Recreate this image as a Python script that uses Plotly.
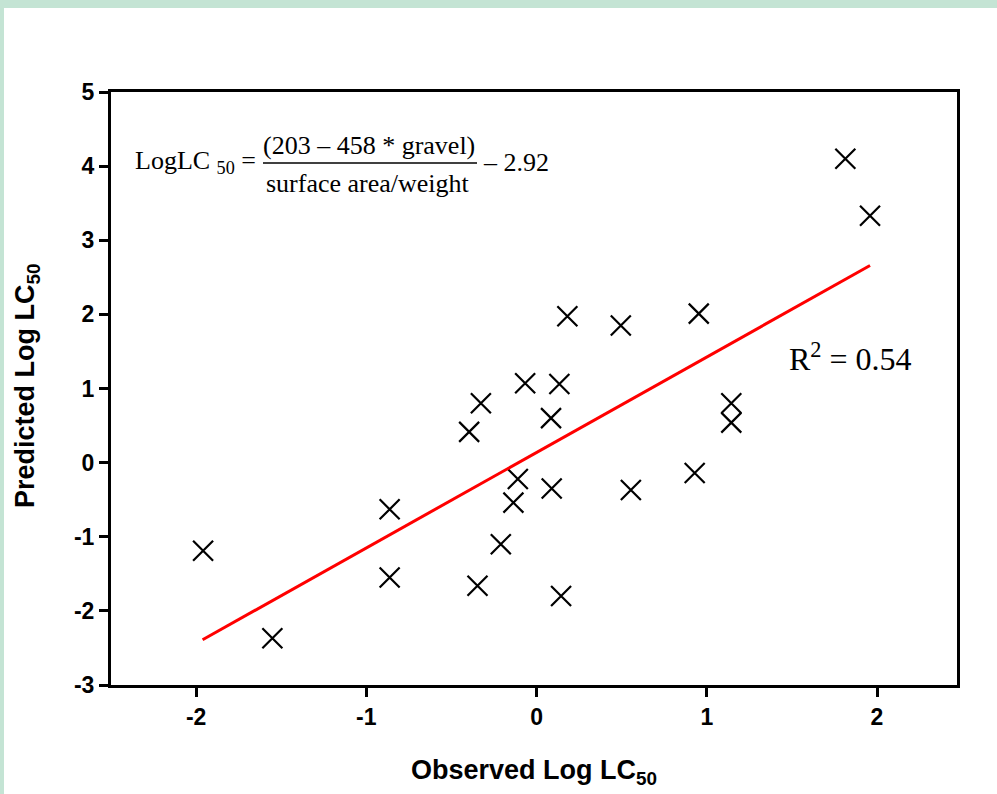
import plotly.graph_objects as go

# ---- data ----
observed = [-1.959, -1.552, -0.863, -0.863, -0.396, -0.327, -0.347, -0.210,
            -0.136, -0.110, -0.067, 0.134, 0.085, 0.089, 0.144, 0.181,
            0.495, 0.554, 0.953, 0.929, 1.144, 1.144, 1.814, 1.959]
predicted = [-1.19, -2.37, -0.63, -1.55, 0.415, 0.80, -1.66, -1.10,
             -0.54, -0.22, 1.07, 1.06, 0.60, -0.35, -1.80, 1.975,
             1.85, -0.37, 2.01, -0.14, 0.80, 0.54, 4.10, 3.33]
fit_x = [-1.962, 1.959]
fit_y = [-2.39, 2.66]
x_ticks = [-2, -1, 0, 1, 2]
y_ticks = [-3, -2, -1, 0, 1, 2, 3, 4, 5]
x_ticktext = ["<b>%d</b>" % v for v in x_ticks]
y_ticktext = ["<b>%d</b>" % v for v in y_ticks]

# ---- layout geometry (pixels) ----
W, H = 997, 794
L, R, T, B = 111, 957, 92, 685


def px(p):
    return (p - L) / (R - L)


def py(p):
    return (B - p) / (B - T)


fig = go.Figure()
fig.add_trace(go.Scatter(
    x=observed, y=predicted, mode="markers",
    marker=dict(symbol="x-thin", size=20, color="black",
                line=dict(width=2.2, color="black")),
    showlegend=False, hoverinfo="skip"))
fig.add_trace(go.Scatter(
    x=fit_x, y=fit_y, mode="lines",
    line=dict(color="#ff0000", width=3),
    showlegend=False, hoverinfo="skip"))

tick_font = dict(family="Liberation Sans", size=23, color="black")
axis_common = dict(
    showgrid=False, zeroline=False, showline=True, linecolor="black",
    linewidth=3, mirror=True, ticks="outside", ticklen=9, tickwidth=2.5,
    tickcolor="black", tickfont=tick_font,
)
fig.update_xaxes(range=[-2.5, 2.47], tickmode="array", tickvals=x_ticks,
                 ticktext=x_ticktext, **axis_common)
fig.update_yaxes(range=[-3, 5], tickmode="array", tickvals=y_ticks,
                 ticktext=y_ticktext, **axis_common)

serif = dict(family="Liberation Serif", size=26, color="black")
ann = []
ann.append(dict(text="LogLC <sub>50</sub> =", x=px(258), y=py(162), xanchor="right",
                yanchor="middle", font=serif))
ann.append(dict(text="(203 – 458 * gravel)", x=px(369), y=py(145), xanchor="center",
                yanchor="middle", font=serif))
ann.append(dict(text="surface area/weight", x=px(368), y=py(183), xanchor="center",
                yanchor="middle", font=serif))
ann.append(dict(text="– 2.92", x=px(481), y=py(162), xanchor="left",
                yanchor="middle", font=serif))
ann.append(dict(text="R<sup>2</sup> = 0.54", x=px(787), y=py(357), xanchor="left",
                yanchor="middle", font=dict(family="Liberation Serif", size=32, color="black")))
title_font = dict(family="Liberation Sans", size=27, color="black")
ann.append(dict(text="<b>Observed Log LC<sub>50</sub></b>", x=px(534), y=py(772),
                xanchor="center", yanchor="middle", font=title_font))
ann.append(dict(text="<b>Predicted Log LC<sub>50</sub></b>", x=px(27), y=py(386),
                xanchor="center", yanchor="middle", textangle=-90, font=title_font))
for a in ann:
    a.update(xref="paper", yref="paper", showarrow=False)

shapes = [
    # fraction bar
    dict(type="line", xref="paper", yref="paper", x0=px(263), x1=px(477),
         y0=py(163), y1=py(163), line=dict(color="black", width=1.5)),
    # light green frame strips of the page
    dict(type="rect", xref="paper", yref="paper", x0=px(0), x1=px(4),
         y0=py(0), y1=py(W), fillcolor="#c4e4d4", line=dict(width=0), layer="below"),
    dict(type="rect", xref="paper", yref="paper", x0=px(0), x1=px(W),
         y0=py(0), y1=py(8), fillcolor="#c4e4d4", line=dict(width=0), layer="below"),
]

fig.update_layout(
    width=W, height=H,
    margin=dict(l=L, r=W - R, t=T, b=H - B),
    paper_bgcolor="white", plot_bgcolor="white",
    annotations=ann, shapes=shapes, showlegend=False,
)
fig.write_html("out.html")
